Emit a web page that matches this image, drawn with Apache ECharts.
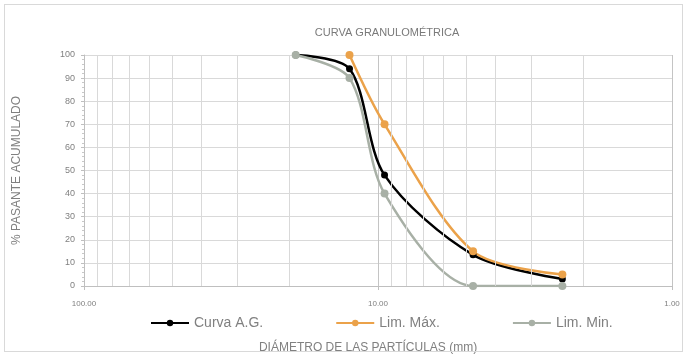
<!DOCTYPE html>
<html><head><meta charset="utf-8">
<script src="https://cdn.jsdelivr.net/npm/echarts@6/dist/echarts.min.js"></script>
<style>
html,body{margin:0;padding:0;background:#fff;}
#c{position:absolute;left:0;top:0;width:689px;height:356px;}
#frame{position:absolute;left:4px;top:4px;width:679px;height:348px;border:1px solid #d9d9d9;box-sizing:border-box;pointer-events:none;}
</style></head>
<body><div id="c"></div><div id="frame"></div>
<script>
// Sieve sizes (mm)
var sizes = [19.05, 12.5, 9.5, 4.75, 2.36];
// % passing
var curvaAG = [100, 94, 48, 13.5, 3];
var limMax  = [null, 100, 70, 15, 5];
var limMin  = [100, 90, 40, 0, 0];
// minor vertical grid positions (log decades)
var minorGrid = [90, 80, 70, 60, 50, 40, 30, 20, 9, 8, 7, 6, 5, 4, 3, 2];

function pairs(ys){ var out=[]; for(var i=0;i<sizes.length;i++){ if(ys[i]!==null) out.push([sizes[i], ys[i]]); } return out; }

var FONT = 'Liberation Sans, Arial, sans-serif';
var TXT = '#808080';
var chart = echarts.init(document.getElementById('c'));
chart.setOption({
  animation:false,
  backgroundColor:'#fff',
  title:{text:'CURVA GRANULOMÉTRICA', left:382, top:22, textAlign:'center',
    textStyle:{fontFamily:FONT, fontSize:11, fontWeight:'normal', color:'#7a7a7a'}},
  grid:{left:84, right:17, top:55, bottom:70, containLabel:false, outerBoundsMode:'none'},
  legend:{top:311, left:145, itemGap:72, itemWidth:38, itemHeight:8,
    textStyle:{fontFamily:FONT, fontSize:14, color:TXT},
    data:['Curva A.G.','Lim. Máx.','Lim. Min.']},
  xAxis:{type:'log', logBase:10, min:1, max:100, inverse:true,
    name:'DIÁMETRO DE LAS PARTÍCULAS (mm)', nameLocation:'middle', nameGap:56,
    nameTextStyle:{fontFamily:FONT, fontSize:12, color:TXT, padding:[0,20,0,0]},
    axisLine:{lineStyle:{color:'#bfbfbf'}},
    axisTick:{show:true, length:4, lineStyle:{color:'#bfbfbf'}},
    axisLabel:{fontFamily:FONT, fontSize:8, color:TXT, margin:14,
      formatter:function(v){ return (+v).toFixed(2); }},
    splitLine:{show:true, lineStyle:{color:'#c4c4c4'}}},
  yAxis:{type:'value', min:0, max:100, interval:10,
    name:'% PASANTE ACUMULADO', nameLocation:'middle', nameGap:61,
    nameTextStyle:{fontFamily:FONT, fontSize:12, color:TXT},
    axisLine:{show:true, lineStyle:{color:'#bfbfbf'}},
    axisTick:{show:true, length:3, lineStyle:{color:'#bfbfbf'}},
    minorTick:{show:true, splitNumber:5, length:2, lineStyle:{color:'#c8c8c8'}},
    axisLabel:{fontFamily:FONT, fontSize:9, color:TXT, margin:9},
    splitLine:{show:true, lineStyle:{color:'#d9d9d9'}}},
  series:[
    {name:'grid', type:'line', data:[], silent:true, legendHoverLink:false,
      markLine:{silent:true, symbol:'none', label:{show:false},
        lineStyle:{color:'#d9d9d9', type:'solid', width:1},
        data:minorGrid.map(function(v){return {xAxis:v};})}},
    {name:'Curva A.G.', type:'line', smooth:0.3, data:pairs(curvaAG), color:'#000',
      lineStyle:{width:2.5, color:'#000'}, symbol:'circle', symbolSize:7,
      itemStyle:{color:'#000'}},
    {name:'Lim. Máx.', type:'line', smooth:0.3, data:pairs(limMax), color:'#eba24a',
      lineStyle:{width:2.5, color:'#eba24a'}, symbol:'circle', symbolSize:8,
      itemStyle:{color:'#eba24a'}},
    {name:'Lim. Min.', type:'line', smooth:0.3, data:pairs(limMin), color:'#a8b0a6',
      lineStyle:{width:2.5, color:'#a8b0a6'}, symbol:'circle', symbolSize:8,
      itemStyle:{color:'#a8b0a6'}}
  ]
});
</script></body></html>
